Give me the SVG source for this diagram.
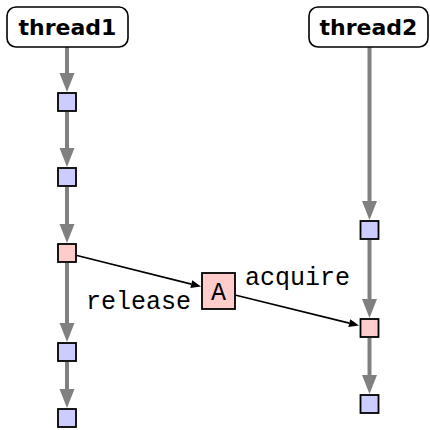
<svg xmlns="http://www.w3.org/2000/svg" width="430" height="430" viewBox="0 0 430 430">
<style>
.thr rect{fill:#fff;stroke:#000;stroke-width:1.6}
.thr text{font-family:"DejaVu Sans",sans-serif;font-weight:bold;font-size:22px;text-anchor:middle;fill:#000}
.ev{stroke:#000;stroke-width:1.8}
.blue{fill:#ccccff}
.pink{fill:#ffcccc}
.tl{stroke:#808080;stroke-width:4;fill:none;marker-end:url(#ga)}
.sync{stroke:#000;stroke-width:1.6;fill:none;marker-end:url(#ba)}
.lbl{font-family:"Liberation Mono",monospace;font-size:25px;fill:#000}
.lock text{font-family:"Liberation Mono",monospace;font-size:25px;text-anchor:middle;fill:#000}
</style>
<defs>
<marker id="ga" markerUnits="userSpaceOnUse" markerWidth="20" markerHeight="16" refX="0" refY="7.5" orient="auto" overflow="visible">
<path d="M0,0 L19,7.5 L0,15 Z" fill="#808080"/>
</marker>
<marker id="ba" markerUnits="userSpaceOnUse" markerWidth="11" markerHeight="9" refX="0" refY="4" orient="auto" overflow="visible">
<path d="M0,0 L10,4 L0,8 Z" fill="#000"/>
</marker>
</defs>
<g id="connectors">
<line class="tl" x1="67" y1="47" x2="67" y2="73"/>
<line class="tl" x1="67" y1="112" x2="67" y2="148"/>
<line class="tl" x1="67" y1="187" x2="67" y2="224"/>
<line class="tl" x1="67" y1="263" x2="67" y2="323"/>
<line class="tl" x1="67" y1="362" x2="67" y2="389"/>
<line class="tl" x1="369.5" y1="47" x2="369.5" y2="201"/>
<line class="tl" x1="369.5" y1="240" x2="369.5" y2="299"/>
<line class="tl" x1="369.5" y1="338" x2="369.5" y2="375"/>
<line class="sync" x1="77" y1="255.5" x2="191.3" y2="284.1"/>
<line class="sync" x1="236" y1="295.3" x2="349.3" y2="323.1"/>
</g>
<g id="thread1" class="thr"><rect x="7" y="7" width="121" height="40" rx="9"/><text x="67.5" y="35">thread1</text></g>
<g id="thread2" class="thr"><rect x="309" y="7" width="119" height="40" rx="9"/><text x="368.5" y="35">thread2</text></g>
<g id="t1e1"><rect class="ev blue" x="58" y="93" width="18" height="18"/></g>
<g id="t1e2"><rect class="ev blue" x="58" y="168" width="18" height="18"/></g>
<g id="t1e3"><rect class="ev pink" x="58" y="244" width="18" height="18"/></g>
<g id="t1e4"><rect class="ev blue" x="58" y="343" width="18" height="18"/></g>
<g id="t1e5"><rect class="ev blue" x="58" y="409" width="18" height="18"/></g>
<g id="t2e1"><rect class="ev blue" x="360.5" y="221" width="18" height="18"/></g>
<g id="t2e2"><rect class="ev pink" x="360.5" y="319" width="18" height="18"/></g>
<g id="t2e3"><rect class="ev blue" x="360.5" y="395" width="18" height="18"/></g>
<g id="lockA" class="lock"><rect class="ev pink" x="202" y="273" width="33" height="36"/><text x="218.5" y="300">A</text></g>
<g id="labels">
<text class="lbl" x="86" y="309">release</text>
<text class="lbl" x="245" y="285">acquire</text>
</g>
</svg>
